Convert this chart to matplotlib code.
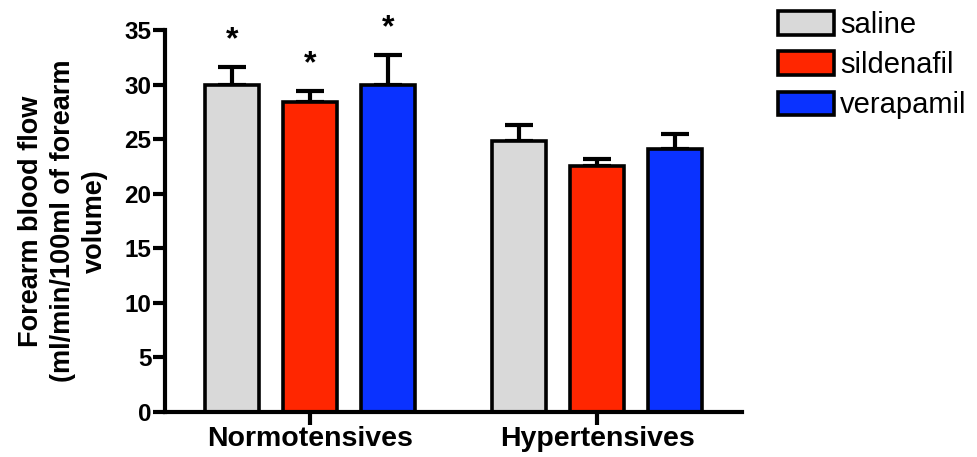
import matplotlib.pyplot as plt
import numpy as np

plt.rcParams['font.family'] = ['Liberation Sans', 'DejaVu Sans']

groups = ['Normotensives', 'Hypertensives']
treatments = ['saline', 'sildenafil', 'verapamil']
colors = ['#d9d9d9', '#ff2600', '#0a32ff']

# mean and upper SEM per treatment, one value per group
saline = [30.0, 24.8]
saline_err = [1.6, 1.5]
sildenafil = [28.4, 22.5]
sildenafil_err = [1.0, 0.7]
verapamil = [30.0, 24.1]
verapamil_err = [2.7, 1.4]
significant = [[True, False], [True, False], [True, False]]

means = [saline, sildenafil, verapamil]
errs = [saline_err, sildenafil_err, verapamil_err]

fig = plt.figure(figsize=(9.78, 4.57), dpi=100)
ax = fig.add_axes([0.169, 0.0985, 0.59, 0.836])

x = np.arange(len(groups))
offset = 0.272
width = 0.188
lw = 3.0

for i, name in enumerate(treatments):
    pos = x + (i - 1) * offset
    ax.bar(pos, means[i], width, color=colors[i], edgecolor='black',
           linewidth=2.6, label=name, zorder=2)
    ax.errorbar(pos, means[i], yerr=[np.zeros(len(groups)), errs[i]],
                fmt='none', ecolor='black', elinewidth=lw, capsize=10,
                capthick=lw, zorder=1)
    for j in range(len(groups)):
        if significant[i][j]:
            ax.text(pos[j], means[i][j] + errs[i][j] + 1.1, '*',
                    ha='center', va='bottom', fontsize=23, fontweight='bold',
                    clip_on=False)

ax.set_xlim(-0.505, 1.505)
ax.set_ylim(0, 35)
ax.set_yticks(np.arange(0, 36, 5))
ax.set_xticks(x)
ax.set_xticklabels(groups, fontsize=20.5, fontweight='bold')
for lab in ax.get_yticklabels():
    lab.set_fontsize(17.5)
    lab.set_fontweight('bold')

ax.spines['top'].set_visible(False)
ax.spines['right'].set_visible(False)
ax.spines['left'].set_linewidth(lw)
ax.spines['bottom'].set_linewidth(lw)
ax.tick_params(axis='both', width=lw, length=9, pad=1)

ax.set_ylabel('Forearm blood flow\n(ml/min/100ml of forearm\nvolume)',
              fontsize=19.5, fontweight='bold', linespacing=1.3, labelpad=12)

ax.legend(loc='upper left', bbox_to_anchor=(0.795, 0.976),
          bbox_transform=fig.transFigure, frameon=False, fontsize=21,
          handlelength=1.95, handleheight=0.86, handletextpad=0.2,
          labelspacing=0.42, borderaxespad=0, borderpad=0)

fig.savefig('out.png', dpi=100)
